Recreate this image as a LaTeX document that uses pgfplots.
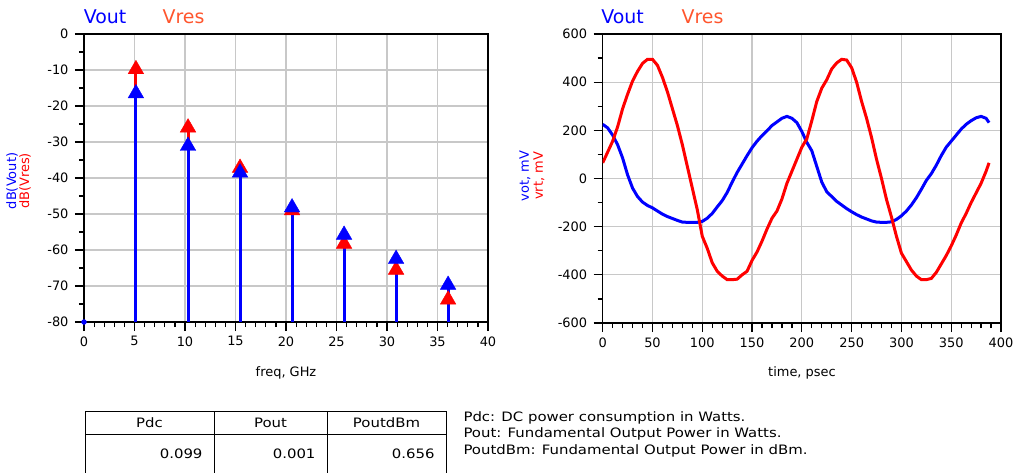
\documentclass[border=0pt]{standalone}
\usepackage{fontspec}
\setmainfont{DejaVu Sans}
\newfontfamily\tblfont[FakeStretch=1.15]{DejaVu Sans}
\usepackage{pgfplots}
\usepackage{pgfplotstable}
\pgfplotsset{compat=1.18}

\definecolor{adsblue}{RGB}{0,0,255}
\definecolor{adsred}{RGB}{255,0,0}
\definecolor{adsorange}{RGB}{255,85,45}
\definecolor{adsgrid}{RGB}{200,200,200}

% time waveforms, psec / mV
\pgfplotstableread{
t v
0 225
5 210
10 180
15 140
20 85
25 15
30 -40
35 -75
40 -98
45 -112
50 -122
55 -135
60 -148
65 -158
70 -166
75 -174
80 -181
85 -182
90 -182
95 -182
100 -178
105 -165
110 -145
115 -118
120 -92
125 -58
130 -15
135 25
140 60
145 95
150 128
155 155
160 178
165 198
170 220
175 235
180 250
185 258
190 250
195 232
200 195
205 150
210 115
215 50
220 -15
225 -55
230 -75
235 -95
240 -110
245 -125
250 -138
255 -150
260 -160
265 -168
270 -176
275 -181
280 -182
285 -182
290 -180
295 -170
300 -155
305 -135
310 -110
315 -80
320 -45
325 -8
330 20
335 55
340 95
345 130
350 155
355 180
360 205
365 225
370 240
375 252
380 258
385 250
388 232
}\vout

\pgfplotstableread{
t v
0 65
5 110
10 155
15 215
20 290
25 350
30 405
35 445
40 478
45 495
50 495
55 470
60 420
65 360
70 290
75 220
80 140
85 50
90 -40
95 -130
100 -240
105 -290
110 -350
115 -385
120 -405
125 -420
130 -420
135 -418
140 -400
145 -385
150 -340
155 -305
160 -260
165 -210
170 -165
175 -135
180 -85
185 -20
190 30
195 80
200 130
205 165
210 240
215 320
220 375
225 410
230 455
235 480
240 495
245 492
250 460
255 400
260 320
265 250
270 170
275 80
280 0
285 -87
290 -160
295 -240
300 -310
305 -345
310 -380
315 -405
320 -420
325 -420
330 -415
335 -390
340 -355
345 -320
350 -280
355 -235
360 -185
365 -145
370 -100
375 -60
380 -20
385 30
388 65
}\vres

\newcommand{\lbl}{\fontsize{13}{15}\selectfont}
\newcommand{\ttl}{\fontsize{19}{21}\selectfont}

\pgfplotsset{ads/.style={
  scale only axis,
  axis line style={line width=1.5bp, black},
  grid=major,
  major grid style={line width=1.2bp, adsgrid},
  tick align=outside,
  tick pos=left,
  major tick length=9bp, minor tick length=5bp,
  every tick/.style={black, line width=1.2bp},
  tick label style={font=\lbl},
  xticklabel style={yshift=-2bp},
  yticklabel style={xshift=-3bp},
  /pgf/number format/assume math mode=true,
}}

\begin{document}
\begin{tikzpicture}
\useasboundingbox (0,0) rectangle (1017bp,-473bp);

% spectrum
\begin{axis}[ads,
  at={(84bp,-322bp)}, anchor=south west,
  width=404bp, height=288bp,
  xmin=0, xmax=40, ymin=-80, ymax=0,
  xtick={0,5,...,40}, ytick={-80,-70,...,0},
  minor x tick num=4, minor y tick num=1,
  clip=false,
]
\addplot[only marks, mark=triangle*, mark size=9bp, color=adsred,
  error bars/.cd, y dir=minus, y explicit, error mark=none,
  error bar style={line width=3bp, adsred}]
coordinates {
  (5.14,-9.8) +- (0,70.2)
  (10.3,-26.0) +- (0,54.0)
  (15.45,-37.2) +- (0,42.8)
  (20.6,-49.0) +- (0,31.0)
  (25.75,-58.3) +- (0,21.7)
  (30.9,-65.5) +- (0,14.5)
  (36.05,-73.8) +- (0,6.2)
};
\addplot[only marks, mark=triangle*, mark size=9bp, color=adsblue,
  error bars/.cd, y dir=minus, y explicit, error mark=none,
  error bar style={line width=3bp, adsblue}]
coordinates {
  (5.14,-16.5) +- (0,63.5)
  (10.3,-31.1) +- (0,48.9)
  (15.45,-38.5) +- (0,41.5)
  (20.6,-48.2) +- (0,31.8)
  (25.75,-55.8) +- (0,24.2)
  (30.9,-62.5) +- (0,17.5)
  (36.05,-69.7) +- (0,10.3)
};
\addplot[only marks, mark=*, mark size=2.5bp, color=adsblue]
coordinates {(0,-80)};
\end{axis}

% time domain
\begin{axis}[ads,
  at={(602.7bp,-323bp)}, anchor=south west,
  width=398.3bp, height=289bp,
  xmin=0, xmax=400, ymin=-600, ymax=600,
  xtick={0,50,...,400}, ytick={-600,-400,...,600},
  minor x tick num=4, minor y tick num=1,
]
\addplot[adsblue, line width=3bp] table[x=t, y=v] {\vout};
\addplot[adsred, line width=3bp] table[x=t, y=v] {\vres};
\end{axis}

% titles and labels
\node[adsblue, font=\ttl] at (105bp,-17bp) {Vout};
\node[adsorange, font=\ttl] at (183.5bp,-17bp) {Vres};
\node[adsblue, font=\ttl] at (622.5bp,-17bp) {Vout};
\node[adsorange, font=\ttl] at (702.5bp,-17bp) {Vres};

\node[font=\lbl] at (286bp,-373bp) {freq, GHz};
\node[font=\lbl] at (802bp,-373bp) {time, psec};

\node[adsblue, font=\lbl, rotate=90] at (12bp,-181bp) {dB(Vout)};
\node[adsred, font=\lbl, rotate=90] at (25bp,-181bp) {dB(Vres)};
\node[adsblue, font=\lbl, rotate=90] at (525bp,-176bp) {vot, mV};
\node[adsred, font=\lbl, rotate=90] at (539bp,-176bp) {vrt, mV};

% summary table
\draw[line width=1bp] (85bp,-490bp) -- (85bp,-411bp) -- (446bp,-411bp) -- (446bp,-490bp);
\draw[line width=1bp] (85bp,-434bp) -- (446bp,-434bp);
\draw[line width=1bp] (214bp,-411bp) -- (214bp,-490bp);
\draw[line width=1bp] (327bp,-411bp) -- (327bp,-490bp);
\node[font=\tblfont\lbl] at (149.5bp,-422.5bp) {Pdc};
\node[font=\tblfont\lbl] at (270.5bp,-422.5bp) {Pout};
\node[font=\tblfont\lbl] at (386.5bp,-422.5bp) {PoutdBm};
\node[font=\tblfont\lbl, anchor=east] at (206bp,-454bp) {0.099};
\node[font=\tblfont\lbl, anchor=east] at (319bp,-454bp) {0.001};
\node[font=\tblfont\lbl, anchor=east] at (438bp,-454bp) {0.656};
\node[font=\tblfont\fontsize{13}{16.5}\selectfont, anchor=west, align=left] at (460bp,-434bp)
  {Pdc: DC power consumption in Watts.\\
   Pout: Fundamental Output Power in Watts.\\
   PoutdBm: Fundamental Output Power in dBm.};
\end{tikzpicture}
\end{document}
